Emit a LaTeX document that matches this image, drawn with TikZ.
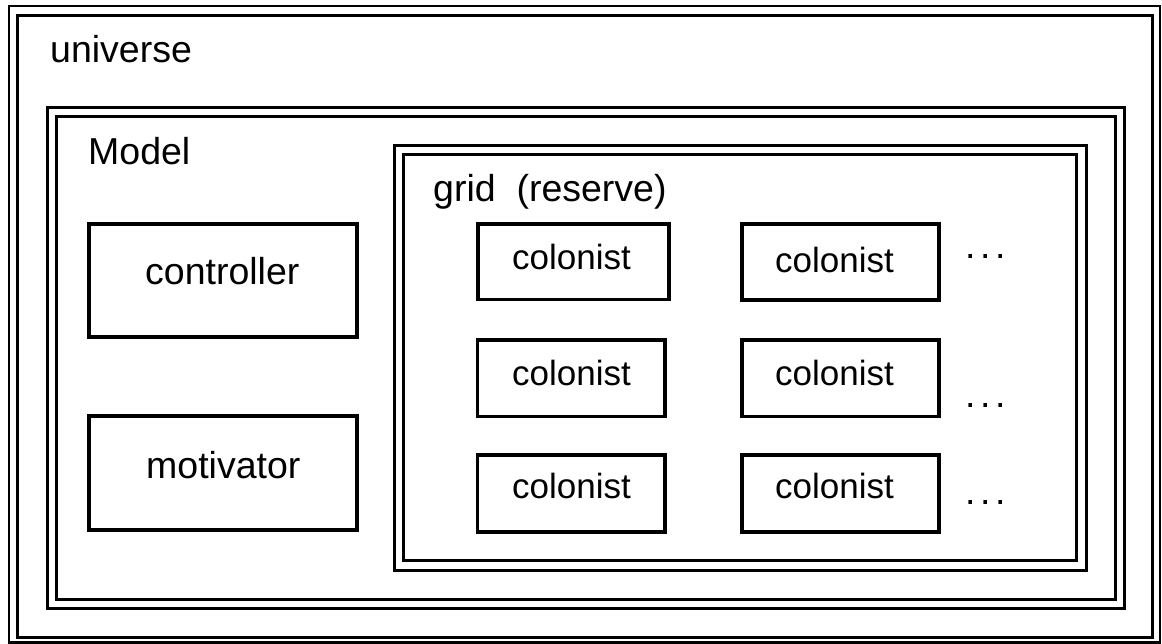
\documentclass[tikz,border=0pt]{standalone}
\usepackage{fontspec}
\setmainfont{Liberation Sans}
\begin{document}
\begin{tikzpicture}[x=1pt,y=-1pt,
  frameline/.style={draw=black,line width=3pt},
  outerline/.style={draw=black,line width=2.6pt},
  boxline/.style={draw=black,line width=3.4pt},
  lbl/.style={inner sep=0pt,anchor=base west,font=\fontsize{37.5}{44}\selectfont},
  clbl/.style={inner sep=0pt,anchor=base west,font=\fontsize{35}{42}\selectfont},
  dots/.style={inner sep=0pt,anchor=base west,font=\fontsize{37.5}{44}\selectfont}]
\useasboundingbox (0,0) rectangle (1162,644);
% universe frame
\draw[outerline] (9,6) rectangle (1160,642.5);
\draw[frameline] (17.5,15.5) rectangle (1152.5,637.5);
\node[lbl] (universe) at (50,63) {universe};
% model frame
\draw[frameline] (47.5,107.5) rectangle (1124.5,608.5);
\draw[frameline] (56,116.5) rectangle (1115.5,599);
\node[lbl] (model) at (88,165) {Model};
% controller, motivator
\draw[boxline] (89,224) rectangle (357,337);
\node[lbl] (controller) at (145,285) {controller};
\draw[boxline] (89,416) rectangle (357,530);
\node[lbl] (motivator) at (146,478) {motivator};
% grid frame
\draw[frameline] (394.5,145.5) rectangle (1086.5,570);
\draw[frameline] (403.5,154.5) rectangle (1076.5,560.5);
\node[lbl] (grid) at (433,202) {grid\ \ (reserve)};
% colonists
\draw[boxline] (478,224) rectangle (669,299.5);
\node[clbl] (c11) at (512,270) {colonist};
\draw[boxline] (742,224) rectangle (939,300);
\node[clbl] (c12) at (775,273) {colonist};
\draw[boxline] (477.5,340) rectangle (665,416.5);
\node[clbl] (c21) at (512,385) {colonist};
\draw[boxline] (742,340) rectangle (939,416.5);
\node[clbl] (c22) at (775,385) {colonist};
\draw[boxline] (477.5,455) rectangle (665,532);
\node[clbl] (c31) at (512,498) {colonist};
\draw[boxline] (742,455) rectangle (939,532);
\node[clbl] (c32) at (775,498) {colonist};
% ellipses
\node[dots] (d1) at (964.8,259) {.\kern4.6pt.\kern4.6pt.};
\node[dots] (d2) at (964.8,407) {.\kern4.6pt.\kern4.6pt.};
\node[dots] (d3) at (964.8,504) {.\kern4.6pt.\kern4.6pt.};
\end{tikzpicture}
\end{document}
